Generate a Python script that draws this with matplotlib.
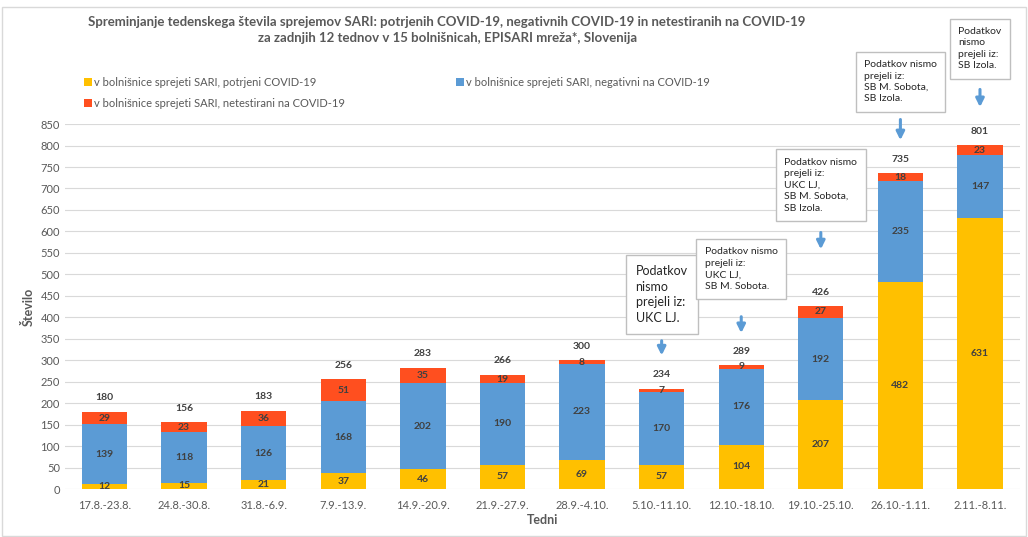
import matplotlib.pyplot as plt
import numpy as np
from matplotlib.patches import Rectangle

plt.rcParams['font.family'] = ['Lato', 'DejaVu Sans']

weeks = ['17.8.-23.8.', '24.8.-30.8.', '31.8.-6.9.', '7.9.-13.9.', '14.9.-20.9.',
         '21.9.-27.9.', '28.9.-4.10.', '5.10.-11.10.', '12.10.-18.10.',
         '19.10.-25.10.', '26.10.-1.11.', '2.11.-8.11.']
potrjeni = [12, 15, 21, 37, 46, 57, 69, 57, 104, 207, 482, 631]
negativni = [139, 118, 126, 168, 202, 190, 223, 170, 176, 192, 235, 147]
netestirani = [29, 23, 36, 51, 35, 19, 8, 7, 9, 27, 18, 23]
skupaj = [180, 156, 183, 256, 283, 266, 300, 234, 289, 426, 735, 801]

notes = {7: 'Podatkov\nnismo\nprejeli iz:\nUKC LJ.',
         8: 'Podatkov nismo\nprejeli iz:\nUKC LJ,\nSB M. Sobota.',
         9: 'Podatkov nismo\nprejeli iz:\nUKC LJ,\nSB M. Sobota,\nSB Izola.',
         10: 'Podatkov nismo\nprejeli iz:\nSB M. Sobota,\nSB Izola.',
         11: 'Podatkov\nnismo\nprejeli iz:\nSB Izola.'}
# text bottom, arrow start, arrow end (data units)
note_pos = {7: (385, 352, 305), 8: (462, 408, 357), 9: (644, 604, 552),
            10: (898, 867, 806), 11: (975, 937, 883)}

c_yel = '#FFC000'
c_blu = '#5B9BD5'
c_red = '#FF4F1F'
txt = '#404040'

fig = plt.figure(figsize=(10.28, 5.37), dpi=100)
ax = fig.add_axes([0.063, 0.089, 0.929, 0.680])
x = np.arange(len(weeks))
w = 0.57
p = np.array(potrjeni)
n = np.array(negativni)
t = np.array(netestirani)

b1 = ax.bar(x, p, w, color=c_yel, label='v bolnišnice sprejeti SARI, potrjeni COVID-19', zorder=3)
b2 = ax.bar(x, n, w, bottom=p, color=c_blu, label='v bolnišnice sprejeti SARI, negativni na COVID-19', zorder=3)
b3 = ax.bar(x, t, w, bottom=p + n, color=c_red, label='v bolnišnice sprejeti SARI, netestirani na COVID-19', zorder=3)

for i in range(len(weeks)):
    ax.text(x[i], p[i] / 2, str(p[i]), ha='center', va='center', fontsize=7.5, fontweight='bold', color=txt, zorder=4)
    ax.text(x[i], p[i] + n[i] / 2, str(n[i]), ha='center', va='center', fontsize=7.5, fontweight='bold', color=txt, zorder=4)
    ax.text(x[i], p[i] + n[i] + t[i] / 2, str(t[i]), ha='center', va='center', fontsize=7.5, fontweight='bold', color=txt, zorder=4)
    ax.text(x[i], skupaj[i] + 22, str(skupaj[i]), ha='center', va='bottom', fontsize=7.5, fontweight='bold', color=txt, zorder=4)

for i, s in notes.items():
    yb, y0, y1 = note_pos[i]
    fs = 9 if i == 7 else 7.5
    ax.text(x[i], yb, s, ha='center', va='bottom', multialignment='left', fontsize=fs, color='#262626',
            linespacing=1.35, bbox=dict(boxstyle='square,pad=0.8', fc='white', ec='#BFBFBF', lw=1),
            clip_on=False, zorder=5)
    ax.annotate('', xy=(x[i], y1), xytext=(x[i], y0), annotation_clip=False,
                arrowprops=dict(arrowstyle='-|>', color=c_blu, lw=2.2, mutation_scale=12))

ax.set_xlim(-0.5, len(weeks) - 0.5)
ax.set_ylim(0, 850)
ax.set_yticks(np.arange(0, 851, 50))
ax.set_xticks(x)
ax.set_xticklabels(weeks)
ax.tick_params(axis='both', length=0, labelsize=8, labelcolor='#595959')
ax.tick_params(axis='x', pad=8)
ax.grid(axis='y', color='#D9D9D9', lw=0.8, zorder=0)
for s in ax.spines.values():
    s.set_visible(False)
ax.set_ylabel('Število', fontsize=9, fontweight='bold', color='#595959', labelpad=4)
ax.set_xlabel('Tedni', fontsize=9, fontweight='bold', color='#595959', labelpad=2)

fig.text(0.435, 0.945, 'Spreminjanje tedenskega števila sprejemov SARI: potrjenih COVID-19, negativnih COVID-19 in netestiranih na COVID-19\nza zadnjih 12 tednov v 15 bolnišnicah, EPISARI mreža*, Slovenija',
         ha='center', va='center', fontsize=9.5, fontweight='bold', color='#595959', linespacing=1.4)

fig.legend(handles=[b1, b3, b2], ncol=2, loc='upper left', bbox_to_anchor=(0.072, 0.875),
           frameon=False, fontsize=8, labelcolor='#595959', handlelength=0.7, handleheight=0.7,
           handletextpad=0.2, columnspacing=10.0, labelspacing=0.9)

fig.patches.append(Rectangle((0.002, 0.002), 0.996, 0.985, transform=fig.transFigure,
                             fill=False, ec='#D9D9D9', lw=1))

fig.savefig('out.png', dpi=100)
